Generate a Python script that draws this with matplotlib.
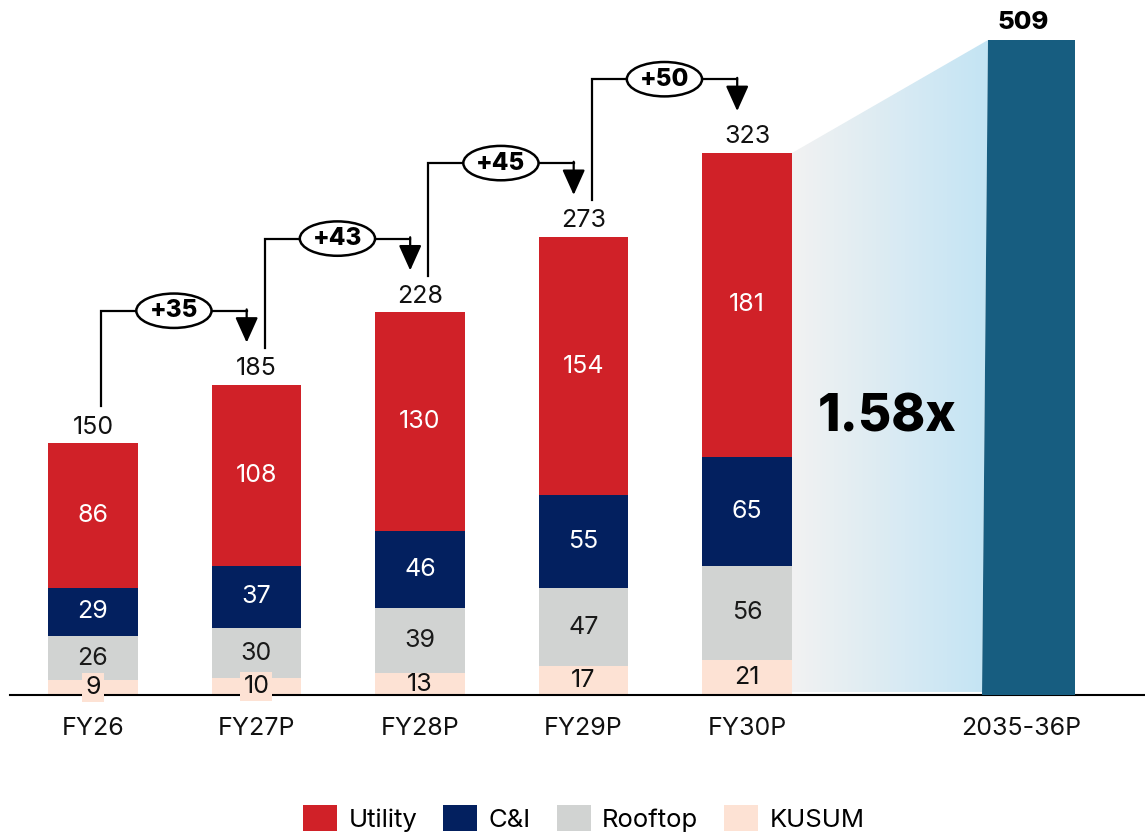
import numpy as np
import matplotlib
matplotlib.use("Agg")
import matplotlib.pyplot as plt
from matplotlib.patches import Ellipse, Polygon

plt.rcParams['font.family'] = ['Inter', 'DejaVu Sans']

# capacity build-out (GW) by segment
years = ['FY26', 'FY27P', 'FY28P', 'FY29P', 'FY30P']
kusum = [9, 10, 13, 17, 21]
rooftop = [26, 30, 39, 47, 56]
ci = [29, 37, 46, 55, 65]
utility = [86, 108, 130, 154, 181]
target_label = '2035-36P'
target_value = 509

seg_names = ['KUSUM', 'Rooftop', 'C&I', 'Utility']
seg_colors = ['#fde2d4', '#d1d3d2', '#03205f', '#d02128']
seg_text = ['#111111', '#1a1a1a', 'white', 'white']
segments = [kusum, rooftop, ci, utility]

totals = [sum(v) for v in zip(*segments)]

x = np.arange(len(years))
w = 0.55
last_x = 5.725
y1max = 414.2   # main axis scale
y2max = 540.1   # separate scale for the 2035-36 bar

fig = plt.figure(figsize=(11.45, 8.32), dpi=100)
ax = fig.add_axes([0.0087, 0.1647, 0.9913, 0.8353])
ax.set_xlim(-0.5076, 6.434)
ax.set_ylim(0, y1max)
for s in ['top', 'left', 'right']:
    ax.spines[s].set_visible(False)
ax.spines['bottom'].set_linewidth(1.5)
ax.spines['bottom'].set_zorder(3)
ax.set_yticks([])

# stacked bars
bottom = np.zeros(len(years))
for vals, name, col, tc in zip(segments, seg_names, seg_colors, seg_text):
    ax.bar(x, vals, w, bottom=bottom, color=col, label=name, zorder=2)
    for xi, b, v in zip(x, bottom, vals):
        kw = {}
        if name == 'KUSUM' and v < 12:
            kw['bbox'] = dict(boxstyle='square,pad=0.12', fc=col, ec='none')
        ax.text(xi, b + v / 2, str(v), ha='center', va='center',
                fontsize=18, color=tc, zorder=5, **kw)
    bottom += vals

for xi, t in zip(x, totals):
    ax.annotate(str(t), (xi, t), xytext=(0, 7), textcoords='offset points',
                ha='center', va='baseline', fontsize=18, color='#111111')

# year-on-year step brackets
for i in range(len(years) - 1):
    x0 = i + 0.05
    x1 = i + 1 - 0.06
    level = totals[i + 1] + 44
    ax.plot([x0, x0, x1], [totals[i] + 22, level, level], color='black', lw=1.6,
            solid_joinstyle='miter', zorder=4)
    ax.annotate('', xy=(x1, totals[i + 1] + 25), xytext=(x1, level + 0.8),
                arrowprops=dict(arrowstyle='-|>,head_length=0.6,head_width=0.27',
                                color='black', lw=1.6,
                                mutation_scale=26, shrinkA=0, shrinkB=0),
                zorder=4)
    xm = (x0 + x1) / 2
    ax.add_patch(Ellipse((xm, level), 0.46, 20.5, fc='white', ec='black',
                         lw=1.8, zorder=5))
    ax.text(xm, level, '+%d' % (totals[i + 1] - totals[i]), ha='center',
            va='center', fontsize=17.5, fontweight='heavy', zorder=6)

# 2035-36 bar on its own scale
ax2 = ax.twinx()
ax2.set_ylim(0, y2max)
ax2.axis('off')
ax2.fill([last_x - 0.288, last_x + 0.281, last_x + 0.281, last_x - 0.251],
         [-1.5, -1.5, target_value, target_value], color='#175d80', lw=0, zorder=2)
ax2.annotate(str(target_value), (last_x, target_value), xytext=(-4, 8),
             textcoords='offset points', ha='center', va='baseline',
             fontsize=18.5, fontweight='heavy')

# gradient wedge linking FY30P to the long-term target
top_main = target_value * y1max / y2max
xl = x[-1] + w / 2
xr_top = last_x - 0.251
xr_bot = last_x - 0.288
wedge = Polygon([(xl, 1.8), (xl, totals[-1]), (xr_top, top_main), (xr_bot, 1.8)],
                closed=True, fc='none', ec='none', transform=ax.transData)
ax.add_patch(wedge)
c0 = np.array([0xf2, 0xf2, 0xf2]) / 255
c1 = np.array([0xc3, 0xe4, 0xf4]) / 255
t = np.linspace(0, 1, 256)
grad = (c0[None, :] * (1 - t[:, None]) + c1[None, :] * t[:, None])[None, :, :]
im = ax.imshow(grad, extent=[xl, xr_top, 0, top_main], aspect='auto',
               origin='lower', zorder=1)
im.set_clip_path(wedge)
ax.set_xlim(-0.5076, 6.434)
ax.set_ylim(0, y1max)

ax.text((xl + xr_bot) / 2, 165, '%.2fx' % (target_value / totals[-1]),
        ha='center', va='center', fontsize=37, fontweight='heavy', zorder=3)

ax.set_xticks(list(x) + [last_x - 0.05])
ax.set_xticklabels(years + [target_label], fontsize=18, color='#111111')
ax.tick_params(axis='x', length=0, pad=16)

handles, labels = ax.get_legend_handles_labels()
order = [3, 2, 1, 0]
fig.legend([handles[k] for k in order], [labels[k] for k in order],
           loc='lower center', bbox_to_anchor=(0.51, -0.006), ncol=4,
           frameon=False, fontsize=18.5, handlelength=1.32, handleheight=1.2,
           handletextpad=0.45, columnspacing=1.0, borderaxespad=0.0,
           borderpad=0.2)

fig.savefig('out.png', dpi=100)
